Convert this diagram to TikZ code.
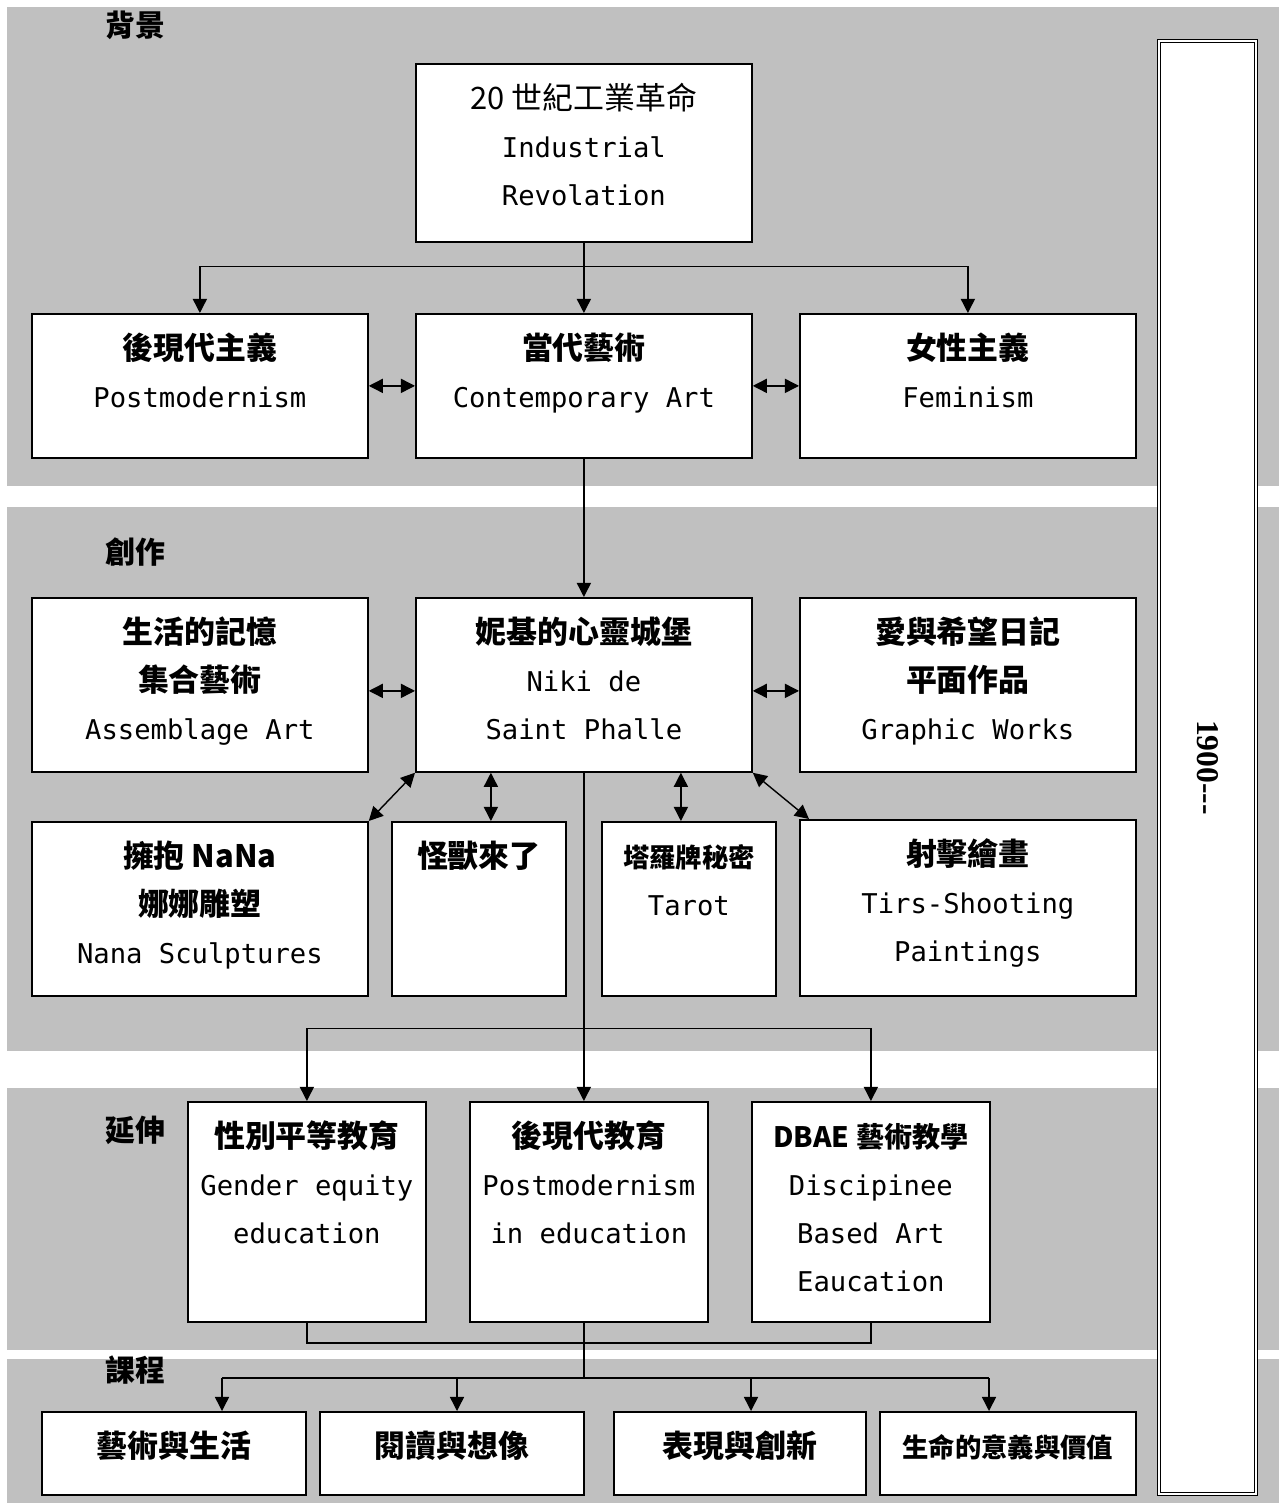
\documentclass[tikz,border=0pt]{standalone}
\usepackage{fontspec}
\setmainfont{Noto Sans CJK TC}
\newfontfamily\enfont{DejaVu Sans Mono}[Scale=0.88]
\newfontfamily\yearfont{Liberation Serif}
\usepackage{xcolor}
\usetikzlibrary{arrows.meta}

\definecolor{bandgray}{HTML}{C0C0C0}
\newdimen\pxu \pxu=0.02cm
% box contents: width, height (in px), lines
\newcommand{\cell}[3]{\vbox to #2\pxu{\hsize=#1\pxu\parindent=0pt\parskip=0pt\centering\rule{0pt}{46\pxu}#3\par\vfil}}
\newcommand{\en}[1]{{\enfont\mdseries #1}}

\tikzset{
  band/.style={fill=bandgray},
  box/.style={draw, fill=white, line width=1pt, inner sep=0pt, anchor=north west,
    font=\fontsize{17.6}{27.3}\selectfont\bfseries},
  sect/.style={font=\fontsize{17}{20}\selectfont\bfseries},
  yearbox/.style={draw, double, double distance=1.2pt, line width=0.5pt, fill=white,
    minimum width=29.06cm, minimum height=1.94cm, inner sep=0pt,
    font=\yearfont\bfseries\fontsize{18}{20}\selectfont},
  link/.style={line width=0.8pt},
  >={Triangle[width=8pt,length=8pt]}
}

\begin{document}
\begin{tikzpicture}[x=0.02cm, y=-0.02cm]
		\useasboundingbox (0,0) rectangle (1279,1503);
		\fill[band] (7,7) rectangle (1279,486);
		\fill[band] (7,507) rectangle (1279,1051);
		\fill[band] (7,1088) rectangle (1279,1350);
		\fill[band] (7,1359) rectangle (1279,1503);
		%
		\node[sect] (bg) at (135,25) {背景};
		\node[sect] (cr) at (135,552) {創作};
		\node[sect] (ext) at (135,1130) {延伸};
		\node[sect] (cur) at (135,1370) {課程};
		%
		\node[yearbox, rotate=-90] (era) at (1207.5,767.5) {1900{-}{-}{-}};
		%
		\node[box] (ind) at (415,63) {\cell{336}{178}{{\mdseries 20 世紀工業革命}\\\en{Industrial}\\\en{Revolation}}};
		\node[box] (post) at (31,313) {\cell{336}{144}{後現代主義\\\en{Postmodernism}}};
		\node[box] (cont) at (415,313) {\cell{336}{144}{當代藝術\\\en{Contemporary Art}}};
		\node[box] (fem) at (799,313) {\cell{336}{144}{女性主義\\\en{Feminism}}};
		%
		\node[box] (assem) at (31,597) {\cell{336}{174}{生活的記憶\\集合藝術\\\en{Assemblage Art}}};
		\node[box] (niki) at (415,597) {\cell{336}{174}{妮基的心靈城堡\\\en{Niki de}\\\en{Saint Phalle}}};
		\node[box] (graph) at (799,597) {\cell{336}{174}{愛與希望日記\\平面作品\\\en{Graphic Works}}};
		\node[box] (nana) at (31,821) {\cell{336}{174}{擁抱 NaNa\\娜娜雕塑\\\en{Nana Sculptures}}};
		\node[box] (monst) at (391,821) {\cell{174}{174}{怪獸來了}};
		\node[box] (tarot) at (601,821) {\cell{174}{174}{{\fontsize{15}{27.3}\selectfont 塔羅牌秘密}\\\en{Tarot}}};
		\node[box] (tirs) at (799,819) {\cell{336}{176}{射擊繪畫\\\en{Tirs-Shooting}\\\en{Paintings}}};
		%
		\node[box] (gend) at (187,1101) {\cell{238}{220}{性別平等教育\\\en{Gender equity}\\\en{education}}};
		\node[box] (pmed) at (469,1101) {\cell{238}{220}{後現代教育\\\en{Postmodernism}\\\en{in education}}};
		\node[box] (dbae) at (751,1101) {\cell{238}{220}{{\fontsize{16}{27.3}\selectfont DBAE 藝術教學}\\\en{Discipinee}\\\en{Based Art}\\\en{Eaucation}}};
		%
		\node[box] (life) at (41,1411) {\cell{264}{83}{藝術與生活}};
		\node[box] (read) at (319,1411) {\cell{264}{83}{閱讀與想像}};
		\node[box] (expr) at (613,1411) {\cell{252}{83}{表現與創新}};
		\node[box] (mean) at (879,1411) {\cell{256}{83}{{\fontsize{15}{27.3}\selectfont 生命的意義與價值}}};
		%
		\coordinate (fork1) at ([yshift=-0.48cm]ind.south);
		\draw[link] (ind.south) -- (fork1);
		\draw[link,->] (fork1) -| (post.north);
		\draw[link,->] (fork1) -- (fork1 |- cont.north);
		\draw[link,->] (fork1) -| (fem.north);
		\draw[link,<->] (post.east) -- (cont.west);
		\draw[link,<->] (cont.east) -- (fem.west);
		\draw[link,->] (cont.south) -- (niki.north);
		%
		\draw[link,<->] ([yshift=-0.12cm]assem.east) -- ([yshift=-0.12cm]niki.west);
		\draw[link,<->] ([yshift=-0.12cm]niki.east) -- ([yshift=-0.12cm]graph.west);
		\coordinate (mtop) at ([xshift=0.24cm]monst.north);
		\coordinate (ttop) at ([xshift=-0.16cm]tarot.north);
		\draw[link,<->] (niki.south west) -- (nana.north east);
		\draw[link,<->] (mtop |- niki.south) -- (mtop);
		\draw[link,<->] (ttop |- niki.south) -- (ttop);
		\draw[link,<->] (niki.south east) -- ([xshift=0.2cm]tirs.north west);
		%
		\coordinate (fork2) at ([yshift=-5.12cm]niki.south);
		\draw[link] (niki.south) -- (fork2);
		\draw[link,->] (fork2) -| (gend.north);
		\draw[link,->] (fork2) -- (fork2 |- pmed.north);
		\draw[link,->] (fork2) -| (dbae.north);
		%
		\coordinate (join) at (fork2 |- 0,1343);
		\draw[link] (gend.south) |- (join);
		\draw[link] (dbae.south) |- (join);
		\foreach \x/\b in {222/life,457/read,751/expr,989/mean}{
			\coordinate (t\b) at (\x,1378);
			\draw[link,->] (t\b) -- (t\b |- \b.north);
		}
		\draw[link] (tlife) -- (tmean);
		\draw[link] (join |- pmed.south) -- (join |- tlife);
\end{tikzpicture}
\end{document}
